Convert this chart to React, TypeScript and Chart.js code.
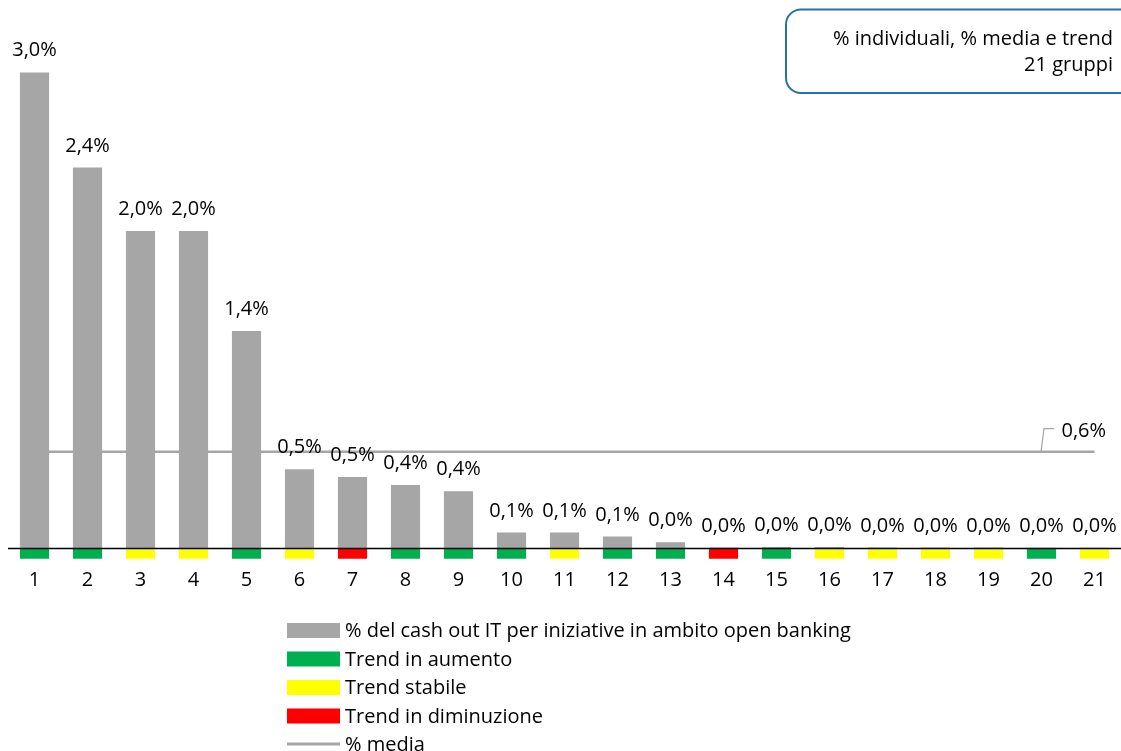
import React, { useEffect, useRef } from "react";
import Chart from "chart.js/auto";

const CATEGORIES = ["1","2","3","4","5","6","7","8","9","10","11","12","13","14","15","16","17","18","19","20","21"];
const VALUES = [3.0, 2.4, 2.0, 2.0, 1.37, 0.5, 0.45, 0.4, 0.36, 0.1, 0.1, 0.075, 0.04, 0.006, 0.009, 0.009, 0.006, 0.006, 0.006, 0.004, 0.004];
const TRENDS = ["up","up","flat","flat","up","flat","down","up","up","up","flat","up","up","down","up","flat","flat","flat","flat","up","flat"];
const AVERAGE = 0.61;
const AVG_LABEL = "0,6%";
const LEGEND_LABELS = [
  "% del cash out IT per iniziative in ambito open banking",
  "Trend in aumento",
  "Trend stabile",
  "Trend in diminuzione",
  "% media",
];
const BOX_LINES = ["% individuali, % media e trend", "21 gruppi"];

const GRAY = "#A6A6A6";
const TREND_COLORS: Record<string, string> = { up: "#00B050", flat: "#FFFF00", down: "#FF0000" };
const FONT = '"Open Sans", Lato, sans-serif';
const FS = 20;
const TREND_MARK = -0.064;

const fmt = (v: number) => v.toFixed(1).replace(".", ",") + "%";

const overlay = {
  id: "overlay",
  afterDatasetsDraw(chart: any) {
    const { ctx, chartArea, scales } = chart;
    const x = scales.x;
    const y = scales.y;
    ctx.save();
    // zero axis line
    const y0 = y.getPixelForValue(0);
    ctx.strokeStyle = "#000";
    ctx.lineWidth = 1.5;
    ctx.beginPath();
    ctx.moveTo(chartArea.left, y0);
    ctx.lineTo(chartArea.right, y0);
    ctx.stroke();

    // data labels
    ctx.fillStyle = "#000";
    ctx.font = `${FS}px ${FONT}`;
    ctx.textAlign = "center";
    ctx.textBaseline = "alphabetic";
    const meta = chart.getDatasetMeta(0);
    meta.data.forEach((bar: any, i: number) => {
      ctx.fillText(fmt(VALUES[i]), bar.x, bar.y - 16);
    });

    // average label with leader
    const ya = y.getPixelForValue(AVERAGE);
    const xe = x.getPixelForValue(CATEGORIES.length - 1);
    ctx.strokeStyle = GRAY;
    ctx.lineWidth = 1.2;
    ctx.beginPath();
    ctx.moveTo(xe - 53.5, ya);
    ctx.lineTo(xe - 50.5, ya - 23);
    ctx.lineTo(xe - 40.5, ya - 23);
    ctx.stroke();
    ctx.textAlign = "left";
    ctx.fillText(AVG_LABEL, xe - 33, ya - 15);

    // top-right box
    ctx.strokeStyle = "#2A6FA6";
    ctx.lineWidth = 2;
    ctx.beginPath();
    (ctx as any).roundRect(786, 9.5, 400, 83.5, 15);
    ctx.stroke();
    ctx.textAlign = "right";
    ctx.fillStyle = "#000";
    ctx.fillText(BOX_LINES[0], 1113, 45);
    ctx.fillText(BOX_LINES[1], 1113, 71);

    // legend
    const lx = 287;
    const rows = [630.5, 659, 687.5, 716, 744];
    const swatches = [GRAY, TREND_COLORS.up, TREND_COLORS.flat, TREND_COLORS.down];
    ctx.textBaseline = "middle";
    ctx.textAlign = "left";
    LEGEND_LABELS.forEach((lab, i) => {
      const cy = rows[i];
      if (i < 4) {
        ctx.fillStyle = swatches[i];
        ctx.fillRect(lx, cy - 7.5, 53, 15);
      } else {
        ctx.strokeStyle = GRAY;
        ctx.lineWidth = 3;
        ctx.beginPath();
        ctx.moveTo(lx, cy);
        ctx.lineTo(lx + 53, cy);
        ctx.stroke();
      }
      ctx.fillStyle = "#000";
      ctx.fillText(lab, lx + 58, cy + 1);
    });
    ctx.restore();
  },
};

export default function App() {
  const ref = useRef<HTMLCanvasElement>(null);
  useEffect(() => {
    document.body.style.margin = "0";
    const chart = new Chart(ref.current!, {
      type: "bar",
      data: {
        labels: CATEGORIES,
        datasets: [
          {
            type: "bar",
            label: LEGEND_LABELS[0],
            data: VALUES,
            backgroundColor: GRAY,
            barPercentage: 0.55,
            categoryPercentage: 1,
            order: 1,
          },
          {
            type: "bar",
            label: "trend",
            data: TRENDS.map(() => TREND_MARK),
            backgroundColor: TRENDS.map((t) => TREND_COLORS[t]),
            barPercentage: 0.55,
            categoryPercentage: 1,
            order: 1,
          },
          {
            type: "line",
            label: LEGEND_LABELS[4],
            data: CATEGORIES.map(() => AVERAGE),
            borderColor: GRAY,
            borderWidth: 2.5,
            pointRadius: 0,
            order: 2,
          } as any,
        ],
      },
      options: {
        animation: false,
        responsive: false,
        layout: { padding: { top: 24.8, left: 8, right: 0, bottom: 150.6 } },
        plugins: { legend: { display: false }, tooltip: { enabled: false } },
        scales: {
          x: {
            stacked: true,
            grid: { display: false, drawTicks: false },
            border: { display: false },
            ticks: { color: "#000", font: { family: FONT, size: FS }, padding: 8.4 },
          },
          y: { stacked: true, display: false, min: -0.07, max: 3.3 },
        },
      },
      plugins: [overlay],
    });
    return () => chart.destroy();
  }, []);
  return (
    <div style={{ position: "absolute", left: 0, top: 0, width: 1121, height: 751, background: "#fff" }}>
      <canvas ref={ref} width={1121} height={751} style={{ display: "block" }} />
    </div>
  );
}
